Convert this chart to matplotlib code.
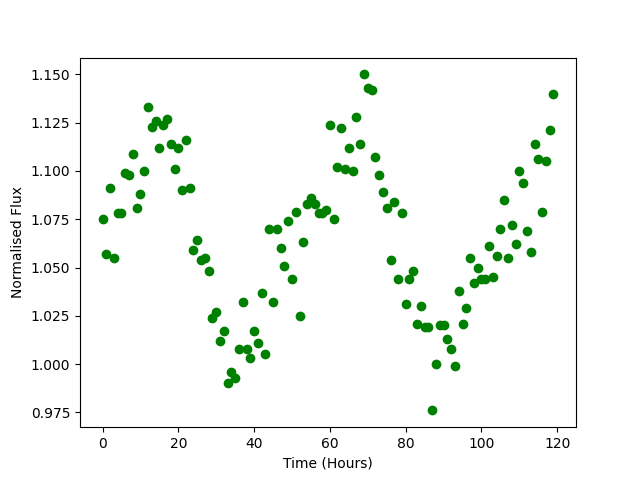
import numpy as np
import matplotlib
matplotlib.use("Agg")
import matplotlib.pyplot as plt

# flux, one point per hour
time_hours = np.arange(120)
flux = [
    1.075, 1.057, 1.091, 1.055, 1.078, 1.078, 1.099, 1.098, 1.109, 1.081,
    1.088, 1.100, 1.133, 1.123, 1.126, 1.112, 1.124, 1.127, 1.114, 1.101,
    1.112, 1.090, 1.116, 1.091, 1.059, 1.064, 1.054, 1.055, 1.048, 1.024,
    1.027, 1.012, 1.017, 0.990, 0.996, 0.993, 1.008, 1.032, 1.008, 1.003,
    1.017, 1.011, 1.037, 1.005, 1.070, 1.032, 1.070, 1.060, 1.051, 1.074,
    1.044, 1.079, 1.025, 1.063, 1.083, 1.086, 1.083, 1.078, 1.078, 1.080,
    1.124, 1.075, 1.102, 1.122, 1.101, 1.112, 1.100, 1.128, 1.114, 1.150,
    1.143, 1.142, 1.107, 1.098, 1.089, 1.081, 1.054, 1.084, 1.044, 1.078,
    1.031, 1.044, 1.048, 1.021, 1.030, 1.019, 1.019, 0.976, 1.000, 1.020,
    1.020, 1.013, 1.008, 0.999, 1.038, 1.021, 1.029, 1.055, 1.042, 1.050,
    1.044, 1.044, 1.061, 1.045, 1.056, 1.070, 1.085, 1.055, 1.072, 1.062,
    1.100, 1.094, 1.069, 1.058, 1.114, 1.106, 1.079, 1.105, 1.121, 1.140,
]

fig, ax = plt.subplots(figsize=(6.4, 4.8), dpi=100)
ax.plot(time_hours, flux, 'go')
ax.set_xlabel('Time (Hours)')
ax.set_ylabel('Normalised Flux')

fig.savefig('out.png')
